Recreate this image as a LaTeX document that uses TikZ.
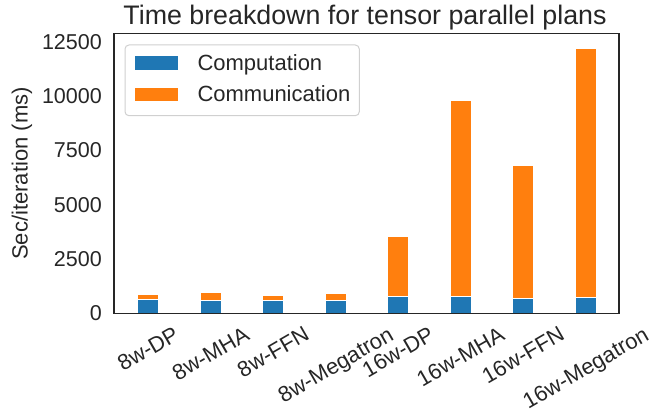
\documentclass[tikz,border=0pt]{standalone}
\usepackage{fontspec}
\setmainfont{Liberation Sans}
\usepackage{graphicx}
\definecolor{mblue}{HTML}{1F77B4}
\definecolor{morange}{HTML}{FF7F0E}
\definecolor{txt}{HTML}{262626}
\definecolor{lgray}{HTML}{D0D0D0}
\tikzset{
  barpart/.style={draw=white, line width=1pt},
  ticklab/.style={inner sep=0pt, text=txt},
  spine/.style={draw=txt, line width=1.2pt},
  legbox/.style={draw=lgray, fill=white, line width=1pt, rounded corners=4pt}
}
\begin{document}
\begin{tikzpicture}[x=1pt,y=-1pt, font=\fontsize{22}{26}\selectfont, text=txt]
\useasboundingbox (0,0) rectangle (670,409);
\def\yz{313.5}
\def\sc{0.02175}
% bars
\foreach \i/\b/\t in {0/644/887, 1/611/966, 2/598/828, 3/584/920, 4/795/3554, 5/782/9793, 6/690/6818, 7/750/12184}{
  \pgfmathsetmacro\xc{148+62.5*\i}
  \pgfmathsetmacro\yb{\yz-\b*\sc}
  \pgfmathsetmacro\yt{\yz-\t*\sc}
  \filldraw[barpart, fill=mblue] (\xc-10.5,\yz) rectangle (\xc+10.5,\yb);
  \filldraw[barpart, fill=morange] (\xc-10.5,\yb) rectangle (\xc+10.5,\yt);
}
% spines
\draw[spine] (114,33.5) rectangle (619,313.5);
% y ticks
\foreach \v in {0,2500,5000,7500,10000,12500}{
  \node[ticklab, anchor=east, font=\fontsize{21.5}{26}\selectfont] (yt\v) at (102,{\yz-\v*\sc}) {\v};
}
% x ticks
\foreach \i/\lab in {0/8w-DP, 1/8w-MHA, 2/8w-FFN, 3/8w-Megatron, 4/16w-DP, 5/16w-MHA, 6/16w-FFN, 7/16w-Megatron}{
  \node[ticklab, anchor=north] (xt\i) at ({148+62.5*\i},321.5) {\rotatebox{30}{\rule[-0.212em]{0pt}{1.117em}\lab}};
}
% axis label
\node[ticklab, rotate=90] (ylab) at (22,173.5) {Sec/iteration (ms)};
% title
\node[ticklab, anchor=base, font=\fontsize{26.8}{31}\selectfont] (title) at (365,24.5) {Time breakdown for tensor parallel plans};
% legend
\draw[legbox] (125,45) rectangle (359.3,115.7);
\fill[mblue] (135,56) rectangle (177.7,70);
\fill[morange] (135,87.7) rectangle (177.7,101);
\node[ticklab, anchor=base west] (lc) at (197.3,70.5) {Computation};
\node[ticklab, anchor=base west] (lm) at (197.3,102) {Communication};
\end{tikzpicture}
\end{document}
